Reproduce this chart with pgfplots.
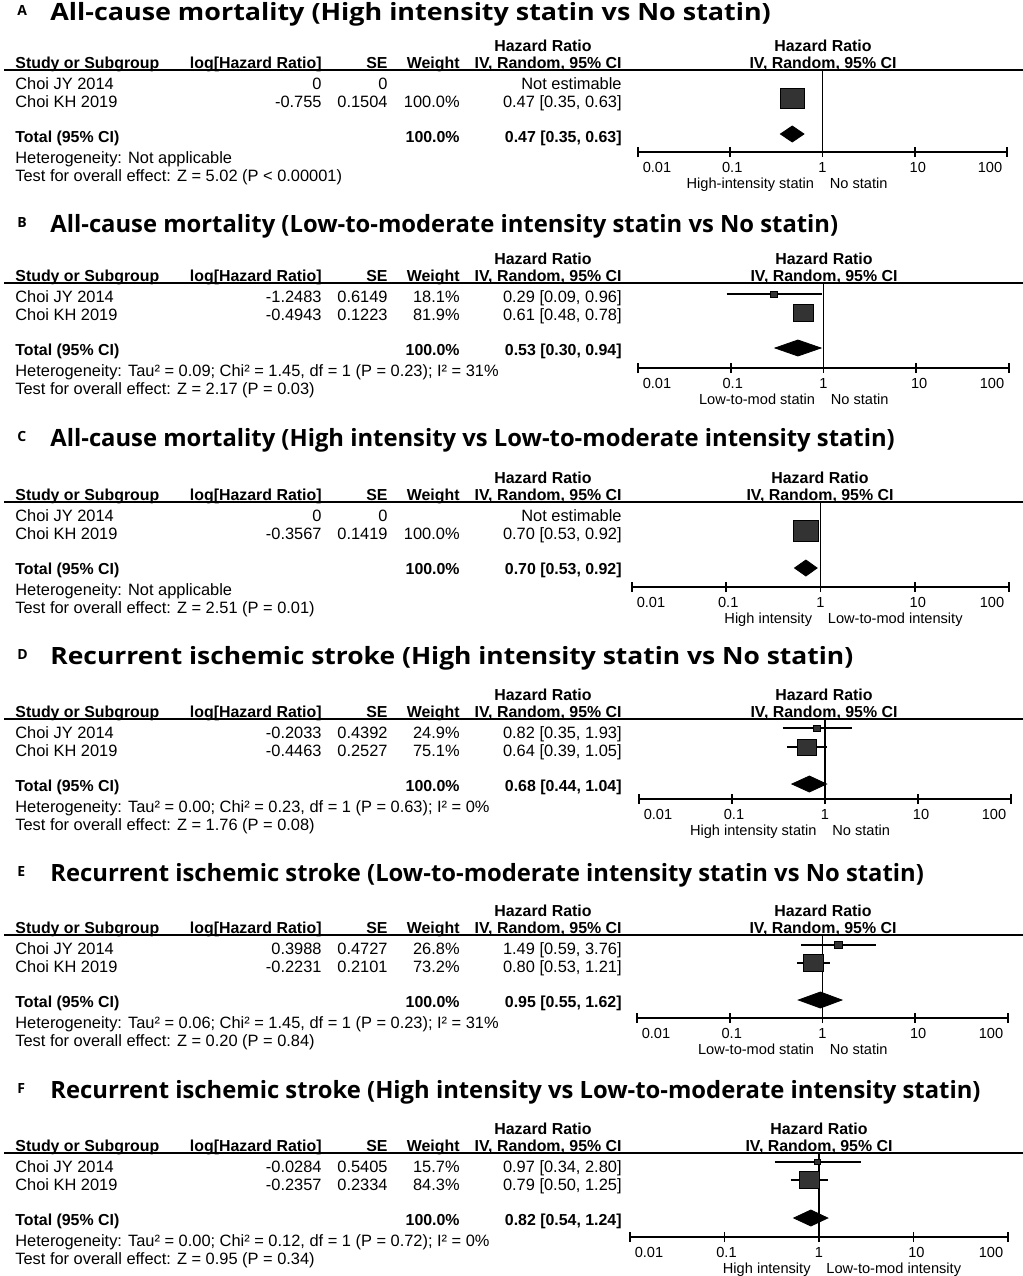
\documentclass[border=0pt]{standalone}
\usepackage{fontspec}
\setmainfont{Liberation Sans}
\newfontfamily\titlefont{Open Sans}
\usepackage{pgfplots}
\pgfplotsset{compat=1.18}
\definecolor{sq}{HTML}{333333}
\newcommand{\tf}{\fontsize{8.2}{10}\selectfont}
\newcommand{\tfb}{\fontsize{7.95}{10}\selectfont\bfseries}
\newcommand{\pf}{\fontsize{7.3}{9}\selectfont}
\tikzset{t/.style={inner sep=0pt,font=\tf},
 tb/.style={inner sep=0pt,font=\tfb},
 tp/.style={inner sep=0pt,font=\pf},
 ttl/.style={inner sep=0pt,font=\titlefont\bfseries\fontsize{11.9}{14}\selectfont},
 lab/.style={inner sep=0pt,font=\titlefont\bfseries\fontsize{7}{8}\selectfont}}
\pgfplotsset{forestax/.style={/pgfplots/xmin=0.01, /pgfplots/xmax=100, /pgfplots/ymin=0,
 /pgfplots/scale only axis, /pgfplots/anchor=south west,
 /pgfplots/axis x line=bottom, /pgfplots/axis y line=none, /pgfplots/axis line style={-, line width=0.9pt, black},
 /pgfplots/xtick={0.01,0.1,1,10,100}, /pgfplots/xticklabels={,,,,}, /pgfplots/xminorticks=false,
 /pgfplots/major tick length=5pt, /pgfplots/tick align=center, /pgfplots/tick style={black, line width=0.9pt}, /pgfplots/clip=false}}
\newcommand{\header}{%
 \node[tb,anchor=base] at (543,\PL-19) {Hazard Ratio};
 \node[tb,anchor=base west] at (15,\PL-2) {Study or Subgroup};
 \node[tb,anchor=base east] at (322,\PL-2) {log[Hazard Ratio]};
 \node[tb,anchor=base east] at (388,\PL-2) {SE};
 \node[tb,anchor=base east] at (460,\PL-2) {Weight};
 \node[tb,anchor=base east] at (622,\PL-2) {IV, Random, 95\% CI};
 \node[tb,anchor=base] at (\PX,\PL-19) {Hazard Ratio};
 \node[tb,anchor=base] at (\PX,\PL-2) {IV, Random, 95\% CI};
 \draw[line width=0.7pt] (4,\PL) -- (1023,\PL);}
\newcommand{\trow}[6]{%
 \node[t,anchor=base west] at (15,#1) {#2};
 \node[t,anchor=base east] at (322,#1) {#3};
 \node[t,anchor=base east] at (388,#1) {#4};
 \node[t,anchor=base east] at (460,#1) {#5};
 \node[t,anchor=base east] at (622,#1) {#6};}
\newcommand{\ttotal}[2]{%
 \node[tb,anchor=base west] at (15,\PL+72) {Total (95\% CI)};
 \node[tb,anchor=base east] at (460,\PL+72) {100.0\%};
 \node[tb,anchor=base east] at (622,\PL+72) {#1};
 \node[t,anchor=base west] at (15,\PL+93) {Heterogeneity: #2};}
\newcommand{\testz}[1]{\node[t,anchor=base west] at (15,\PL+111) {Test for overall effect: #1};}
\newcommand{\ptitle}[4]{%
 \node[lab,anchor=base west] at (17,#1-5) {#2};
 \node[ttl,anchor=base west] at (50,#1) {\scalebox{#4}[1]{#3}};}
\newcommand{\ticklabs}[2]{%
 \node[tp,anchor=base,xshift=9.5pt,yshift=-10pt] at (axis cs:0.01,0) {0.01};
 \node[tp,anchor=base,xshift=1pt,yshift=-10pt] at (axis cs:0.1,0) {0.1};
 \node[tp,anchor=base,yshift=-10pt] at (axis cs:1,0) {1};
 \node[tp,anchor=base,xshift=1.5pt,yshift=-10pt] at (axis cs:10,0) {10};
 \node[tp,anchor=base,xshift=-8.5pt,yshift=-10pt] at (axis cs:100,0) {100};
 \node[tp,anchor=base east,xshift=-4pt,yshift=-18pt] at (axis cs:1,0) {#1};
 \node[tp,anchor=base west,xshift=3.5pt,yshift=-18pt] at (axis cs:1,0) {#2};}
\tikzset{fsq/.style={/tikz/only marks, /tikz/mark=square*, /tikz/mark size=#1pt, /tikz/mark options={fill=sq, draw=black, line width=0.4pt, xscale=1.2}},
 fci/.style={/tikz/draw=black, /tikz/line width=0.6pt},
 fvl/.style={/tikz/draw=black, /tikz/line width=0.9pt},
 fdia/.style={/tikz/fill=black, /tikz/draw=black}}
\begin{document}
\begin{tikzpicture}[x=0.5pt,y=-0.5pt]
\path[use as bounding box] (0,0) rectangle (1023,1276);
% ---------------- A
\def\PL{70}\def\PX{823}
\ptitle{20}{A}{All-cause mortality (High intensity statin vs No statin)}{1.13}
\header
\trow{\PL+19}{Choi JY 2014}{0}{0}{}{Not estimable}
\trow{\PL+37}{Choi KH 2019}{-0.755}{0.1504}{100.0\%}{0.47 [0.35, 0.63]}
\ttotal{0.47 [0.35, 0.63]}{Not applicable}
\testz{Z = 5.02 (P < 0.00001)}
\begin{axis}[xmode=log, forestax, at={(319pt,-76pt)}, width=184.5pt, height=41pt, ymax=82]
\addplot[fvl] coordinates {(1,0) (1,82)};
\addplot[fci] coordinates {(0.35,54) (0.63,54)};
\addplot[fsq=5] coordinates {(0.47,54)};
\addplot[fdia] coordinates {(0.35,18) (0.47,26) (0.63,18) (0.47,10)} -- cycle;
\ticklabs{High-intensity statin}{No statin}
\end{axis}
% ---------------- B
\def\PL{283}\def\PX{824}
\ptitle{232}{B}{All-cause mortality (Low-to-moderate intensity statin vs No statin)}{1}
\header
\trow{\PL+19}{Choi JY 2014}{-1.2483}{0.6149}{18.1\%}{0.29 [0.09, 0.96]}
\trow{\PL+37}{Choi KH 2019}{-0.4943}{0.1223}{81.9\%}{0.61 [0.48, 0.78]}
\ttotal{0.53 [0.30, 0.94]}{Tau² = 0.09; Chi² = 1.45, df = 1 (P = 0.23); I² = 31\%}
\testz{Z = 2.17 (P = 0.03)}
\begin{axis}[xmode=log, forestax, at={(319pt,-184pt)}, width=185.5pt, height=42.5pt, ymax=85]
\addplot[fvl] coordinates {(1,0) (1,85)};
\addplot[fci] coordinates {(0.09,74) (0.96,74)};
\addplot[fsq=1.5] coordinates {(0.29,74)};
\addplot[fci] coordinates {(0.48,55) (0.78,55)};
\addplot[fsq=4.25] coordinates {(0.61,55)};
\addplot[fdia] coordinates {(0.30,20) (0.53,28) (0.94,20) (0.53,12)} -- cycle;
\ticklabs{Low-to-mod statin}{No statin}
\end{axis}
% ---------------- C
\def\PL{502}\def\PX{820}
\ptitle{446}{C}{All-cause mortality (High intensity vs Low-to-moderate intensity statin)}{1}
\header
\trow{\PL+19}{Choi JY 2014}{0}{0}{}{Not estimable}
\trow{\PL+37}{Choi KH 2019}{-0.3567}{0.1419}{100.0\%}{0.70 [0.53, 0.92]}
\ttotal{0.70 [0.53, 0.92]}{Not applicable}
\testz{Z = 2.51 (P = 0.01)}
\begin{axis}[xmode=log, forestax, at={(316pt,-293.5pt)}, width=188.5pt, height=42.5pt, ymax=85]
\addplot[fvl] coordinates {(1,0) (1,85)};
\addplot[fci] coordinates {(0.53,56) (0.92,56)};
\addplot[fsq=5.25] coordinates {(0.70,56)};
\addplot[fdia] coordinates {(0.53,19) (0.70,27) (0.92,19) (0.70,11)} -- cycle;
\ticklabs{High intensity}{Low-to-mod intensity}
\end{axis}
% ---------------- D
\def\PL{719}\def\PX{824}
\ptitle{664}{D}{Recurrent ischemic stroke (High intensity statin vs No statin)}{1.11}
\header
\trow{\PL+19}{Choi JY 2014}{-0.2033}{0.4392}{24.9\%}{0.82 [0.35, 1.93]}
\trow{\PL+37}{Choi KH 2019}{-0.4463}{0.2527}{75.1\%}{0.64 [0.39, 1.05]}
\ttotal{0.68 [0.44, 1.04]}{Tau² = 0.00; Chi² = 0.23, df = 1 (P = 0.63); I² = 0\%}
\testz{Z = 1.76 (P = 0.08)}
\begin{axis}[xmode=log, forestax, at={(319.5pt,-399.5pt)}, width=186pt, height=40pt, ymax=80]
\addplot[fvl] coordinates {(1,0) (1,80)};
\addplot[fci] coordinates {(0.35,71) (1.93,71)};
\addplot[fsq=1.5] coordinates {(0.82,71)};
\addplot[fci] coordinates {(0.39,52) (1.05,52)};
\addplot[fsq=4] coordinates {(0.64,52)};
\addplot[fdia] coordinates {(0.44,15) (0.68,23) (1.04,15) (0.68,7)} -- cycle;
\ticklabs{High intensity statin}{No statin}
\end{axis}
% ---------------- E
\def\PL{935}\def\PX{823}
\ptitle{881}{E}{Recurrent ischemic stroke (Low-to-moderate intensity statin vs No statin)}{1}
\header
\trow{\PL+19}{Choi JY 2014}{0.3988}{0.4727}{26.8\%}{1.49 [0.59, 3.76]}
\trow{\PL+37}{Choi KH 2019}{-0.2231}{0.2101}{73.2\%}{0.80 [0.53, 1.21]}
\ttotal{0.95 [0.55, 1.62]}{Tau² = 0.06; Chi² = 1.45, df = 1 (P = 0.23); I² = 31\%}
\testz{Z = 0.20 (P = 0.84)}
\begin{axis}[xmode=log, forestax, at={(318.5pt,-509pt)}, width=185.5pt, height=41.5pt, ymax=83]
\addplot[fvl] coordinates {(1,0) (1,83)};
\addplot[fci] coordinates {(0.59,73) (3.76,73)};
\addplot[fsq=1.6] coordinates {(1.49,73)};
\addplot[fci] coordinates {(0.53,55) (1.21,55)};
\addplot[fsq=4.25] coordinates {(0.80,55)};
\addplot[fdia] coordinates {(0.55,18) (0.95,26) (1.62,18) (0.95,10)} -- cycle;
\ticklabs{Low-to-mod statin}{No statin}
\end{axis}
% ---------------- F
\def\PL{1153}\def\PX{819}
\ptitle{1098}{F}{Recurrent ischemic stroke (High intensity vs Low-to-moderate intensity statin)}{1}
\header
\trow{\PL+19}{Choi JY 2014}{-0.0284}{0.5405}{15.7\%}{0.97 [0.34, 2.80]}
\trow{\PL+37}{Choi KH 2019}{-0.2357}{0.2334}{84.3\%}{0.79 [0.50, 1.25]}
\ttotal{0.82 [0.54, 1.24]}{Tau² = 0.00; Chi² = 0.12, df = 1 (P = 0.72); I² = 0\%}
\testz{Z = 0.95 (P = 0.34)}
\begin{axis}[xmode=log, forestax, at={(315pt,-618.5pt)}, width=189pt, height=42pt, ymax=84]
\addplot[fvl] coordinates {(1,0) (1,84)};
\addplot[fci] coordinates {(0.34,75) (2.80,75)};
\addplot[fsq=1.25] coordinates {(0.97,75)};
\addplot[fci] coordinates {(0.50,57) (1.25,57)};
\addplot[fsq=4.25] coordinates {(0.79,57)};
\addplot[fdia] coordinates {(0.54,19) (0.82,27) (1.24,19) (0.82,11)} -- cycle;
\ticklabs{High intensity}{Low-to-mod intensity}
\end{axis}
\end{tikzpicture}
\end{document}
